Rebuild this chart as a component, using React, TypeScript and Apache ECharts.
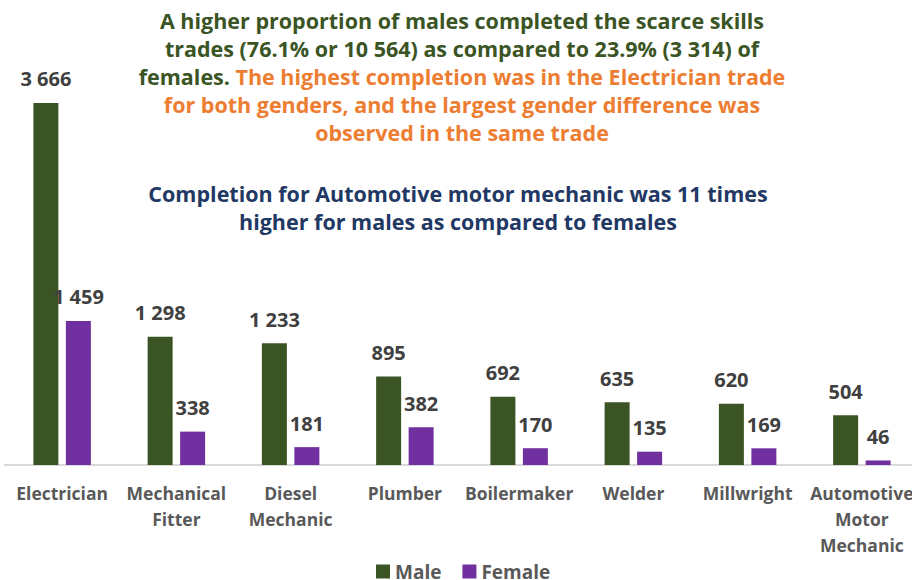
import React, { useEffect, useRef } from "react";
import * as echarts from "echarts";

const categories = [
  "Electrician",
  "Mechanical\nFitter",
  "Diesel\nMechanic",
  "Plumber",
  "Boilermaker",
  "Welder",
  "Millwright",
  "Automotive\nMotor\nMechanic",
];
const maleValues = [3666, 1298, 1233, 895, 692, 635, 620, 504];
const femaleValues = [1459, 338, 181, 382, 170, 135, 169, 46];

const FONT = "'Open Sans', 'Noto Sans', sans-serif";
const GREEN = "#3A5424";
const PURPLE = "#7030A0";
const ORANGE = "#ED7D31";
const NAVY = "#1F3864";

const fmt = (v: number) => String(v).replace(/\B(?=(\d{3})+(?!\d))/g, " ");

export default function App() {
  const ref = useRef<HTMLDivElement>(null);
  useEffect(() => {
    if (!ref.current) return;
    const chart = echarts.init(ref.current, null, { renderer: "svg" });
    const labelStyle = {
      show: true,
      position: "top" as const,
      distance: 14,
      formatter: (p: any) => fmt(p.value),
      color: "#404040",
      fontFamily: FONT,
      fontWeight: "bold" as const,
      fontSize: 20,
    };
    const T = 21.5;
    chart.setOption({
      animation: false,
      backgroundColor: "#ffffff",
      title: [
        {
          left: 462,
          top: 6,
          padding: 0,
          textAlign: "center",
          text:
            "{g|A higher proportion of males completed the scarce skills}\n" +
            "{g|trades (76.1% or 10 564) as compared to 23.9% (3 314) of}\n" +
            "{g|females. }{o|The highest completion was in the Electrician trade}\n" +
            "{o|for both genders, and the largest gender difference was}\n" +
            "{o|observed in the same trade}",
          textStyle: {
            fontFamily: FONT,
            fontWeight: "bold",
            fontSize: T,
            lineHeight: 28,
            rich: {
              g: { color: GREEN, fontFamily: FONT, fontWeight: "bold", fontSize: T, lineHeight: 28 },
              o: { color: ORANGE, fontFamily: FONT, fontWeight: "bold", fontSize: T, lineHeight: 28 },
            },
          },
        },
        {
          left: 458,
          top: 179,
          padding: 0,
          textAlign: "center",
          text:
            "Completion for Automotive motor mechanic was 11 times\nhigher for males as compared to females",
          textStyle: {
            color: NAVY,
            fontFamily: FONT,
            fontWeight: "bold",
            fontSize: T,
            lineHeight: 28,
          },
        },
      ],
      legend: {
        top: 562,
        left: 376,
        padding: 0,
        itemWidth: 14,
        itemHeight: 14,
        itemGap: 21,
        icon: "rect",
        textStyle: {
          color: "#595959",
          fontFamily: FONT,
          fontWeight: "bold",
          fontSize: 19,
          lineHeight: 18,
        },
        data: ["Male", "Female"],
      },
      grid: {
        left: 5,
        width: 914,
        top: 70,
        bottom: 115,
        containLabel: false,
        outerBoundsMode: "none",
      },
      xAxis: {
        type: "category",
        data: categories,
        axisLine: { lineStyle: { color: "#D9D9D9", width: 2 } },
        axisTick: { show: false },
        axisLabel: {
          interval: 0,
          margin: 15,
          color: "#595959",
          fontFamily: FONT,
          fontWeight: "bold",
          fontSize: 17.5,
          lineHeight: 26,
        },
      },
      yAxis: {
        type: "value",
        min: 0,
        max: 4000,
        show: false,
        splitLine: { show: false },
      },
      series: [
        {
          name: "Male",
          type: "bar",
          data: maleValues,
          barWidth: 25,
          barGap: "30%",
          itemStyle: { color: GREEN },
          label: labelStyle,
        },
        {
          name: "Female",
          type: "bar",
          data: femaleValues,
          barWidth: 25,
          itemStyle: { color: PURPLE },
          label: labelStyle,
        },
      ],
    });
    return () => chart.dispose();
  }, []);
  return (
    <div
      ref={ref}
      style={{ position: "absolute", left: 0, top: 0, width: 912, height: 580 }}
    />
  );
}
